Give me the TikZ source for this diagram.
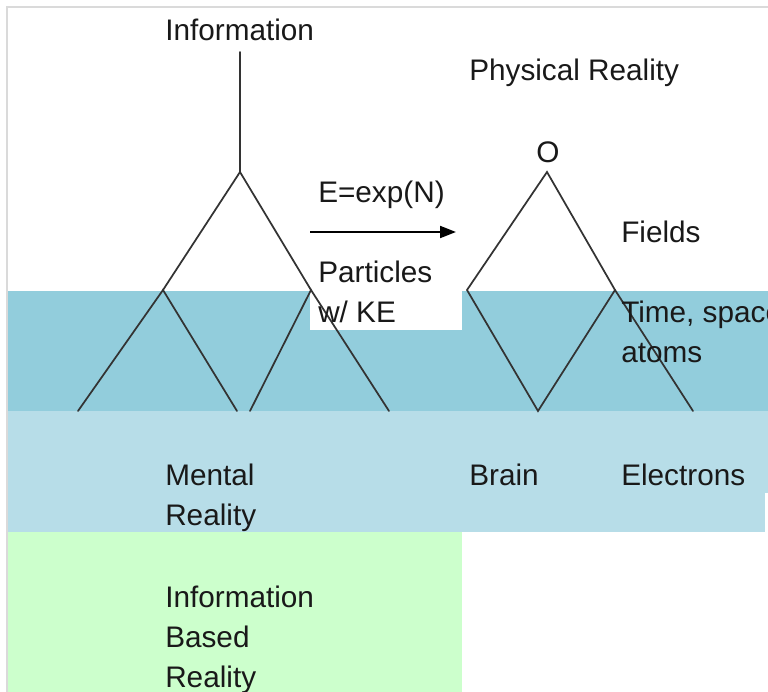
\documentclass[tikz,border=0pt]{standalone}
\usepackage{fontspec}
\setmainfont{Liberation Sans}
\usetikzlibrary{arrows.meta}
\definecolor{bandA}{HTML}{92CDDC}
\definecolor{bandB}{HTML}{B7DDE8}
\definecolor{bandC}{HTML}{CCFFCC}
\definecolor{edgegrey}{HTML}{DADADA}
\tikzset{
  lbl/.style={anchor=base west, inner sep=0pt, font=\fontsize{22.3}{30}\selectfont, text=black!90},
  lbl2/.style={lbl, align=left},
  branch/.style={line width=1.3pt, draw=black!80, line cap=round},
}
\begin{document}
\begin{tikzpicture}[x=0.75pt,y=-0.75pt]
\useasboundingbox (0,0) rectangle (768,692);
\clip (0,0) rectangle (768,692);
\fill[white] (0,0) rectangle (768,692);
% bands
\fill[bandA] (8,291) rectangle (768,411);
\fill[bandB] (8,411) rectangle (768,493);
\fill[bandB] (8,493) rectangle (765,532);
\fill[bandC] (8,532) rectangle (462,692);
\fill[white] (310,255) rectangle (462,330);
% frame
\draw[edgegrey, line width=1.5pt] (7,692) -- (7,7) -- (768,7);
% coordinates
\coordinate (itop) at (240,52);
\coordinate (iapex) at (240,172);
\coordinate (l1) at (163,290);
\coordinate (r1) at (311,290);
\coordinate (ll) at (78,411);
\coordinate (lr) at (237,411);
\coordinate (rl) at (250,411);
\coordinate (rr) at (389,411);
\coordinate (oapex) at (547,172);
\coordinate (ol) at (467,290);
\coordinate (or) at (615,290);
\coordinate (ov) at (538,411);
\coordinate (oe) at (693,411);
\coordinate (as) at (310,232);
\coordinate (ae) at (456,232);
% lines
\draw[branch] (itop) -- (iapex);
\draw[branch] (l1) -- (iapex) -- (r1);
\draw[branch] (ll) -- (l1) -- (lr);
\draw[branch] (rl) -- (r1) -- (rr);
\draw[branch] (ol) -- (oapex) -- (or);
\draw[branch] (ol) -- (ov) -- (or);
\draw[branch] (or) -- (oe);
\draw[line width=1.5pt, -{Triangle[length=12pt,width=9pt]}] (as) -- (ae);
% texts
\node[lbl] (tinfo) at (165,41) {Information};
\node[lbl] (tphys) at (469,81) {Physical Reality};
\node[lbl] (tO) at (536,162) {O};
\node[lbl] (texp) at (318,202) {E=exp(N)};
\node[lbl] (tfields) at (621,242) {Fields};
\node[lbl2] (tpart) at (318,322) {Particles\\w/ KE};
\node[lbl2] (ttime) at (621,362) {Time, space,\\atoms};
\node[lbl2] (tmental) at (165,525) {Mental\\Reality};
\node[lbl] (tbrain) at (469,485) {Brain};
\node[lbl] (telec) at (621,485) {Electrons};
\node[lbl2] (tibr) at (165,687) {Information\\Based\\Reality};
\end{tikzpicture}
\end{document}
